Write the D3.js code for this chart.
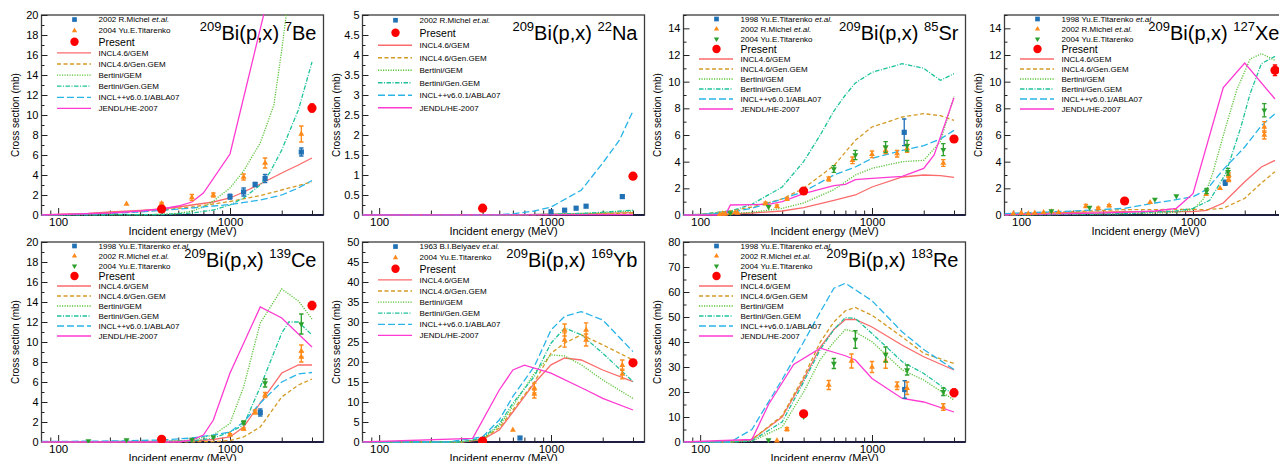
<!DOCTYPE html>
<html><head><meta charset="utf-8">
<script src="https://cdn.jsdelivr.net/npm/d3@7"></script>
<style>
body{margin:0;background:#fff}
svg{display:block}
text{font-family:"Liberation Sans",Arial,Helvetica,sans-serif;fill:#000}
</style>
</head><body>
<svg id="c" width="1279" height="461"></svg>
<script>
// ---------- shared axis data ----------
const xDomain = [80, 3500];
const xMajorTicks = [100, 1000];
const xMinorTicks = [90, 200, 300, 400, 500, 600, 700, 800, 900, 2000, 3000];
const modelNames = ["INCL4.6/GEM","INCL4.6/Gen.GEM","Bertini/GEM","Bertini/Gen.GEM","INCL++v6.0.1/ABLA07","JENDL/HE-2007"];

// ---------- 7Be ----------
const be7_yTicks = [0,2,4,6,8,10,12,14,16,18,20];
const be7_incl46gem = [[80,0.03],[100,0.05],[150,0.15],[200,0.3],[300,0.45],[400,0.6],[500,0.8],[600,1.0],[800,1.3],[1000,1.7],[1200,2.3],[1500,3.1],[2000,4.2],[2500,5.0],[3000,5.7]];
const be7_incl46gengem = [[80,0.02],[100,0.04],[200,0.2],[300,0.35],[400,0.5],[600,0.8],[800,1.1],[1000,1.35],[1500,1.95],[2000,2.5],[2500,2.95],[3000,3.3]];
const be7_bertgem = [[80,0],[300,0.02],[400,0.06],[500,0.15],[600,0.4],[700,0.8],[800,1.4],[1000,2.7],[1200,4.4],[1500,7.2],[1800,11],[2000,16.5],[2200,22],[2500,28]];
const be7_bertgengem = [[80,0],[400,0.05],[600,0.2],[800,0.5],[1000,1.0],[1200,1.7],[1500,3.0],[1700,4.2],[2000,6.5],[2500,10.5],[3000,15.3]];
const be7_inclpp = [[80,0.01],[100,0.02],[200,0.15],[300,0.3],[400,0.45],[600,0.7],[800,0.9],[1000,1.05],[1500,1.5],[2000,2.0],[2500,2.7],[3000,3.45]];
const be7_jendl = [[80,0],[100,0.05],[200,0.2],[300,0.4],[400,0.6],[500,0.9],[600,1.3],[700,2.2],[1000,6.1],[2000,27.5]];
const be7_michel = [[1000,1.83,0.25],[1200,2.3,0.4],[1400,3.05,0.2],[1600,3.65,0.4],[2600,6.3,0.4]];
const be7_tit2004 = [[250,1.1,0],[400,1.15,0.1],[600,1.75,0.3],[800,2.0,0.2],[1200,3.8,0.3],[1600,5.2,0.5],[2600,8.1,0.8]];
const be7_present = [[400,0.6,0.1],[3000,10.7,0.4]];

// ---------- 22Na ----------
const na22_yTicks = [0,0.5,1,1.5,2,2.5,3,3.5,4,4.5,5];
const na22_incl46gem = [[80,0],[400,0],[600,0.005],[1000,0.02],[1500,0.03],[2000,0.04],[3000,0.06]];
const na22_incl46gengem = [[80,0],[600,0],[1000,0.01],[2000,0.03],[3000,0.05]];
const na22_bertgem = [[80,0],[600,0],[1000,0.02],[1500,0.04],[2000,0.06],[3000,0.1]];
const na22_bertgengem = [[80,0],[600,0],[1000,0.02],[1500,0.04],[2000,0.07],[3000,0.12]];
const na22_inclpp = [[80,0],[400,0],[500,0.01],[600,0.03],[800,0.1],[1000,0.2],[1500,0.62],[2000,1.3],[2500,1.87],[3000,2.6]];
const na22_jendl = [[80,0],[3000,0.01]];
const na22_michel = [[1000,0.08,0],[1200,0.12,0],[1400,0.17,0],[1600,0.22,0],[2600,0.46,0]];
const na22_present = [[400,0.17,0],[3000,0.97,0]];

// ---------- 85Sr ----------
const sr85_yTicks = [0,2,4,6,8,10,12,14];
const sr85_incl46gem = [[80,0],[100,0.02],[150,0.08],[200,0.15],[300,0.3],[400,0.55],[600,1.1],[800,1.5],[1000,2.1],[1500,2.85],[2000,3.0],[2500,2.95],[3000,2.82]];
const sr85_incl46gengem = [[80,0],[100,0.05],[150,0.3],[200,0.6],[300,1.2],[400,2.0],[600,3.7],[800,5.6],[1000,6.6],[1500,7.35],[2000,7.6],[2500,7.45],[3000,7.1]];
const sr85_bertgem = [[80,0],[100,0.02],[150,0.1],[200,0.2],[300,0.5],[400,0.9],[600,1.9],[800,3.0],[1000,3.5],[1500,4.0],[2000,4.1],[2500,5.5],[3000,8.9]];
const sr85_bertgengem = [[80,0],[100,0.05],[150,0.3],[200,0.8],[300,2.1],[400,4.0],[500,6.0],[600,7.8],[700,9.0],[800,9.9],[1000,10.7],[1500,11.35],[2000,11.0],[2500,10.1],[3000,10.6]];
const sr85_inclpp = [[80,0],[100,0.03],[150,0.2],[200,0.5],[300,1.2],[400,1.75],[600,3.0],[800,3.6],[1000,4.25],[1500,4.85],[2000,5.2],[2500,5.7],[3000,6.35]];
const sr85_jendl = [[80,0],[140,0],[150,0.75],[200,0.78],[250,0.8],[300,1.0],[400,1.6],[600,2.2],[700,2.3],[800,2.65],[1000,2.75],[1500,2.9],[2000,3.5],[2300,4.5],[3000,8.8]];
const sr85_tit1998 = [[1540,6.2,1.0]];
const sr85_michel = [[130,0.05,0],[135,0.1,0],[140,0.08,0],[150,0.15,0],[160,0.2,0],[165,0.15,0],[240,0.87,0.1],[280,0.65,0.1],[320,1.2,0.1],[560,2.7,0.15],[770,4.1,0.25],[1000,4.55,0.25],[1200,4.85,0.25],[1400,4.6,0.25],[1600,5.0,0.3],[2600,3.9,0.25]];
const sr85_tit2004 = [[150,0.15,0],[250,0.62,0],[600,3.45,0.25],[800,4.5,0.35],[1200,5.1,0.4],[1600,5.2,0.4],[2600,4.9,0.45]];
const sr85_present = [[400,1.8,0.15],[3000,5.7,0.25]];

// ---------- 127Xe ----------
const xe127_yTicks = [0,2,4,6,8,10,12,14];
const xe127_incl46gem = [[80,0.05],[100,0.1],[200,0.2],[400,0.25],[600,0.25],[1000,0.25],[1200,0.35],[1500,0.9],[2000,2.5],[2500,3.6],[3000,4.1]];
const xe127_incl46gengem = [[80,0.05],[100,0.1],[200,0.25],[300,0.35],[400,0.4],[1000,0.42],[1200,0.4],[1500,0.5],[2000,1.25],[2500,2.4],[3000,3.25]];
const xe127_bertgem = [[80,0],[200,0.05],[400,0.1],[600,0.15],[800,0.2],[1000,0.4],[1150,1.2],[1300,3.1],[1550,6.6],[1800,9.4],[2150,11.7],[2500,12.1],[3000,11.6]];
const xe127_bertgengem = [[80,0],[400,0.1],[800,0.3],[1000,0.5],[1250,1.1],[1550,3.1],[1900,6.6],[2150,9.1],[2500,11.35],[3000,11.9]];
const xe127_inclpp = [[80,0.1],[100,0.15],[200,0.3],[400,0.5],[600,0.9],[800,1.15],[1000,1.37],[1200,1.9],[1500,3.4],[2000,5.1],[2500,6.7],[3000,7.6]];
const xe127_jendl = [[80,0],[100,0.05],[200,0.1],[400,0.2],[600,0.3],[800,0.5],[1000,1.6],[1500,9.55],[2000,11.4],[3000,8.7]];
const xe127_tit1998 = [[1540,2.42,0.2]];
const xe127_michel = [[90,0.1,0],[100,0.15,0],[110,0.1,0],[120,0.15,0],[135,0.2,0],[150,0.25,0],[165,0.2,0],[238,0.67,0.12],[281,0.5,0.08],[325,0.7,0.08],[563,0.95,0],[1193,1.55,0],[1438,2.0,0],[1613,3.0,0.15],[1613,2.65,0.15],[2600,6.0,0.3],[2600,6.6,0.4]];
const xe127_tit2004 = [[150,0.3,0],[250,0.57,0],[600,1.17,0],[800,1.42,0],[1200,1.8,0.2],[1600,3.24,0.25],[2600,7.86,0.5]];
const xe127_present = [[400,1.05,0.05],[3000,10.85,0.4]];

// ---------- 139Ce ----------
const ce139_yTicks = [0,2,4,6,8,10,12,14,16,18,20];
const ce139_incl46gem = [[80,0],[400,0.05],[600,0.1],[800,0.25],[1000,0.5],[1200,1.5],[1500,3.9],[2000,6.9],[2500,7.7],[3000,7.7]];
const ce139_incl46gengem = [[80,0],[600,0.02],[800,0.05],[1000,0.15],[1200,0.5],[1500,1.5],[2000,4.5],[2500,5.7],[3000,6.3]];
const ce139_bertgem = [[80,0],[400,0.02],[600,0.2],[800,0.7],[1000,1.87],[1200,5.5],[1500,11.9],[2000,15.3],[2500,14.1],[3000,12.3]];
const ce139_bertgengem = [[80,0],[600,0.1],[800,0.4],[1000,1.0],[1200,1.7],[1500,5.5],[2000,10.9],[2200,12.0],[2500,12.0],[3000,10.7]];
const ce139_inclpp = [[80,0.05],[200,0.1],[400,0.2],[600,0.4],[800,0.7],[1000,1.0],[1200,2.0],[1500,3.9],[2000,6.0],[2500,6.8],[3000,6.95]];
const ce139_jendl = [[80,0],[500,0],[600,0.2],[700,0.7],[800,2.2],[1000,6.9],[1500,13.5],[2000,12.4],[3000,9.5]];
const ce139_tit1998 = [[1500,2.95,0.35]];
const ce139_michel = [[1000,0.73,0.1],[1200,1.3,0.1],[1400,3.0,0.2],[1600,4.7,0.25],[2600,8.5,0.5],[2600,9.1,0.6]];
const ce139_tit2004 = [[150,0.1,0],[250,0.2,0],[600,0.25,0],[800,0.5,0],[1200,1.95,0.15],[1600,5.9,0.4],[2600,11.8,1.0]];
const ce139_present = [[400,0.27,0],[3000,13.65,0.4]];

// ---------- 169Yb ----------
const yb169_yTicks = [0,5,10,15,20,25,30,35,40,45,50];
const yb169_incl46gem = [[80,0],[300,0],[400,0.6],[500,3],[600,7.5],[800,14.7],[1000,19.3],[1200,21.0],[1500,20.5],[2000,18.0],[3000,15.1]];
const yb169_incl46gengem = [[80,0],[300,0],[400,0.8],[500,3.5],[600,8],[800,15],[1000,22.2],[1200,24.7],[1500,26.8],[2000,24.3],[3000,20.5]];
const yb169_bertgem = [[80,0],[300,0],[400,0.8],[500,4],[600,9],[800,17.2],[1000,21.8],[1200,21.5],[1500,19.3],[2000,15.5],[3000,10.9]];
const yb169_bertgengem = [[80,0],[300,0],[400,1.0],[500,4.5],[600,9.7],[800,16.4],[1000,24.7],[1200,28.5],[1500,26.8],[2000,22.2],[3000,15.1]];
const yb169_inclpp = [[80,0],[250,0],[300,0.5],[400,1.3],[500,5.5],[600,11.4],[800,18.9],[1000,28],[1200,31.4],[1500,32.6],[2000,30.5],[3000,22.6]];
const yb169_jendl = [[80,0],[350,0.9],[500,13],[600,18],[700,19.2],[1000,17.2],[1600,13.0],[2000,10.9],[3000,8.0]];
const yb169_belyaev = [[660,1.0,0]];
const yb169_tit2004 = [[600,3.0,0],[800,12.0,1.0],[800,13.5,1.2],[1200,25.5,1.8],[1200,28,1.5],[1600,25.5,1.5],[1600,28,1.8],[2600,17,1.2],[2600,19.2,1.3]];
const yb169_present = [[400,0.25,0],[3000,19.8,0.5]];

// ---------- 183Re ----------
const re183_yTicks = [0,10,20,30,40,50,60,70,80];
const re183_incl46gem = [[80,0],[150,0],[200,1],[300,10],[400,25],[500,38],[600,45],[700,49],[800,49],[1000,46],[1500,38.7],[2000,34.1],[3000,28.8]];
const re183_incl46gengem = [[80,0],[150,0],[200,1],[300,10.5],[400,26],[500,40],[600,48],[700,52.5],[800,53.8],[1000,50.7],[1500,42],[2000,35.5],[3000,31.4]];
const re183_bertgem = [[80,0],[150,0],[200,0.3],[300,6],[400,20],[500,33],[600,40],[700,45],[800,44],[1000,40.1],[1500,28.8],[2000,24.8],[3000,16.8]];
const re183_bertgengem = [[80,0],[150,0],[200,0.5],[300,8],[400,24],[500,37],[600,45],[700,49.8],[800,49.4],[1000,43.4],[1500,32.1],[2000,27.4],[3000,18.8]];
const re183_inclpp = [[80,0],[150,0],[200,5],[300,25],[400,40],[500,52],[600,61.5],[700,63.5],[1000,56.5],[1500,44],[2000,37],[3000,29]];
const re183_jendl = [[80,0],[200,1],[250,15],[350,31],[500,37.5],[700,34.5],[800,32.8],[1000,25.4],[1500,17.4],[2000,16],[3000,12]];
const re183_tit1998 = [[1550,21,3.5]];
const re183_michel = [[280,0.5,0],[320,5.1,0.6],[560,22.8,1.8],[760,32.4,2.8],[1000,30,2.2],[1200,32.5,3],[1400,22.5,1.5],[1600,21.5,2.5],[2600,14,1.3]];
const re183_tit2004 = [[250,0.8,0],[400,10.2,0],[600,31.4,2],[800,41,3.5],[1200,35,3],[1600,28.8,2],[2600,20.1,1.5]];
const re183_present = [[400,11.3,0.5],[3000,19.7,1.5]];

// ---------- styles ----------
const modelColors = ["#fb6b6b","#d49a26","#5cc43a","#1fc29a","#29b4e8","#ff3ad2"];
const modelDash = [null,"4,2.5","1.2,1.3","4.5,1.5,1,1.5","7,3",null];
const expColors = ["#2171b5","#ff8a1a","#2ca02c"];
const presentColor = "#ff0000";

const L_MICHEL = {t:"2002 R.Michel ", it:"et.al."};
const L_TIT04 = {t:"2004 Yu.E.Titarenko", it:""};
const L_TIT98 = {t:"1998 Yu.E.Titarenko ", it:"et.al."};
const L_BEL = {t:"1963 B.I.Belyaev ", it:"et.al."};

const panels = [
  {col:0,row:0,mass:"7",el:"Be",yMax:20,yTicks:be7_yTicks,
   models:[be7_incl46gem,be7_incl46gengem,be7_bertgem,be7_bertgengem,be7_inclpp,be7_jendl],
   exp:[{lab:L_MICHEL,pts:be7_michel,m:0},{lab:L_TIT04,pts:be7_tit2004,m:1}],present:be7_present},
  {col:1,row:0,mass:"22",el:"Na",yMax:5,yTicks:na22_yTicks,
   models:[na22_incl46gem,na22_incl46gengem,na22_bertgem,na22_bertgengem,na22_inclpp,na22_jendl],
   exp:[{lab:L_MICHEL,pts:na22_michel,m:0}],present:na22_present},
  {col:2,row:0,mass:"85",el:"Sr",yMax:15,yTicks:sr85_yTicks,
   models:[sr85_incl46gem,sr85_incl46gengem,sr85_bertgem,sr85_bertgengem,sr85_inclpp,sr85_jendl],
   exp:[{lab:L_TIT98,pts:sr85_tit1998,m:0},{lab:L_MICHEL,pts:sr85_michel,m:1},{lab:L_TIT04,pts:sr85_tit2004,m:2}],present:sr85_present},
  {col:3,row:0,mass:"127",el:"Xe",yMax:15,yTicks:xe127_yTicks,
   models:[xe127_incl46gem,xe127_incl46gengem,xe127_bertgem,xe127_bertgengem,xe127_inclpp,xe127_jendl],
   exp:[{lab:L_TIT98,pts:xe127_tit1998,m:0},{lab:L_MICHEL,pts:xe127_michel,m:1},{lab:L_TIT04,pts:xe127_tit2004,m:2}],present:xe127_present},
  {col:0,row:1,mass:"139",el:"Ce",yMax:20,yTicks:ce139_yTicks,
   models:[ce139_incl46gem,ce139_incl46gengem,ce139_bertgem,ce139_bertgengem,ce139_inclpp,ce139_jendl],
   exp:[{lab:L_TIT98,pts:ce139_tit1998,m:0},{lab:L_MICHEL,pts:ce139_michel,m:1},{lab:L_TIT04,pts:ce139_tit2004,m:2}],present:ce139_present},
  {col:1,row:1,mass:"169",el:"Yb",yMax:50,yTicks:yb169_yTicks,
   models:[yb169_incl46gem,yb169_incl46gengem,yb169_bertgem,yb169_bertgengem,yb169_inclpp,yb169_jendl],
   exp:[{lab:L_BEL,pts:yb169_belyaev,m:0},{lab:L_TIT04,pts:yb169_tit2004,m:1}],present:yb169_present},
  {col:2,row:1,mass:"183",el:"Re",yMax:80,yTicks:re183_yTicks,
   models:[re183_incl46gem,re183_incl46gengem,re183_bertgem,re183_bertgengem,re183_inclpp,re183_jendl],
   exp:[{lab:L_TIT98,pts:re183_tit1998,m:0},{lab:L_MICHEL,pts:re183_michel,m:1},{lab:L_TIT04,pts:re183_tit2004,m:2}],present:re183_present}
];

// ---------- drawing ----------
const svg = d3.select("#c");
const W = 282, H = 200;
const colX = [41.5, 362.5, 683.5, 1004.5];
const rowY = [15, 242];
const defs = svg.append("defs");

function marker(g, type, cx, cy, scale) {
  const s = scale || 1;
  if (type === 0) {
    g.append("rect").attr("x", cx - 2.6*s).attr("y", cy - 2.6*s).attr("width", 5.2*s).attr("height", 5.2*s).attr("fill", expColors[0]);
  } else if (type === 1) {
    g.append("path").attr("d", d3.symbol(d3.symbolTriangle, 15*s*s)()).attr("transform", `translate(${cx},${cy})`).attr("fill", expColors[1]);
  } else if (type === 2) {
    g.append("path").attr("d", d3.symbol(d3.symbolTriangle, 15*s*s)()).attr("transform", `translate(${cx},${cy}) rotate(180)`).attr("fill", expColors[2]);
  } else {
    g.append("circle").attr("cx", cx).attr("cy", cy).attr("r", 4.6*s).attr("fill", presentColor);
  }
}

panels.forEach((p, pi) => {
  const ox = colX[p.col], oy = rowY[p.row];
  const x = d3.scaleLog().domain(xDomain).range([ox, ox + W]);
  const y = d3.scaleLinear().domain([0, p.yMax]).range([oy + H, oy]);
  const g = svg.append("g");

  defs.append("clipPath").attr("id", "clip" + pi).append("rect")
    .attr("x", ox).attr("y", oy - 1).attr("width", W).attr("height", H + 2);

  // frame
  g.append("rect").attr("x", ox).attr("y", oy).attr("width", W).attr("height", H)
    .attr("fill", "none").attr("stroke", "#3c3c3c").attr("stroke-width", 1.3);
  g.append("line").attr("x1", ox).attr("x2", ox + W).attr("y1", oy + H).attr("y2", oy + H)
    .attr("stroke", "#1e1e40").attr("stroke-width", 2);

  // x axis ticks
  const xMaj = g.append("g").attr("transform", `translate(0,${oy + H})`)
    .call(d3.axisBottom(x).tickValues(xMajorTicks).tickSize(-7).tickPadding(2.5).tickFormat(d3.format("d")));
  const xMin = g.append("g").attr("transform", `translate(0,${oy + H})`)
    .call(d3.axisBottom(x).tickValues(xMinorTicks).tickSize(-4.5).tickFormat(""));
  [xMaj, xMin].forEach(a => { a.select(".domain").remove(); a.selectAll("line").attr("stroke", "#222"); });
  xMaj.selectAll("text").attr("font-size", 11.5).attr("font-family", "Liberation Sans, Arial, sans-serif").attr("fill", "#000");

  // y axis ticks
  const step = p.yTicks[1] - p.yTicks[0];
  const yMinorVals = p.yTicks.slice(0, -1).map(v => v + step / 2).concat(p.yTicks[p.yTicks.length-1] + step/2 <= p.yMax ? [p.yTicks[p.yTicks.length-1] + step/2] : []);
  const yMaj = g.append("g").attr("transform", `translate(${ox},0)`)
    .call(d3.axisLeft(y).tickValues(p.yTicks).tickSize(-6).tickPadding(3).tickFormat(d => String(d)));
  const yMin = g.append("g").attr("transform", `translate(${ox},0)`)
    .call(d3.axisLeft(y).tickValues(yMinorVals).tickSize(-3).tickFormat(""));
  [yMaj, yMin].forEach(a => { a.select(".domain").remove(); a.selectAll("line").attr("stroke", "#222"); });
  yMaj.selectAll("text").attr("font-size", 11).attr("font-family", "Liberation Sans, Arial, sans-serif").attr("fill", "#000");

  // axis titles
  g.append("text").attr("x", ox + W / 2).attr("y", oy + H + 19.5).attr("text-anchor", "middle")
    .attr("font-size", 11).text("Incident energy (MeV)");
  g.append("text").attr("transform", `translate(${ox - 22.5},${oy + H / 2}) rotate(-90)`)
    .attr("text-anchor", "middle").attr("font-size", 10).text("Cross section (mb)");

  // model curves
  const plot = g.append("g").attr("clip-path", `url(#clip${pi})`);
  const line = d3.line().x(d => x(d[0])).y(d => y(d[1]));
  p.models.forEach((m, i) => {
    plot.append("path").attr("d", line(m)).attr("fill", "none")
      .attr("stroke", modelColors[i]).attr("stroke-width", 1.3)
      .attr("stroke-dasharray", modelDash[i]);
  });

  // experimental data
  const drawPts = (pts, type, color, sc) => {
    pts.forEach(d => {
      const cx = x(d[0]), cy = y(d[1]);
      if (d[2] > 0) {
        const y1 = y(d[1] - d[2]), y2 = y(d[1] + d[2]);
        plot.append("line").attr("x1", cx).attr("x2", cx).attr("y1", y1).attr("y2", y2).attr("stroke", color).attr("stroke-width", 1.3);
        [y1, y2].forEach(yy => plot.append("line").attr("x1", cx - 2.2).attr("x2", cx + 2.2).attr("y1", yy).attr("y2", yy).attr("stroke", color).attr("stroke-width", 1.3));
      }
      marker(plot, type, cx, cy, sc);
    });
  };
  p.exp.forEach(e => drawPts(e.pts, e.m, expColors[e.m], 1));
  drawPts(p.present, 3, presentColor, 1);

  // legend
  const entries = [];
  p.exp.forEach(e => entries.push({kind: "exp", m: e.m, lab: e.lab}));
  entries.push({kind: "present"});
  modelNames.forEach((n, i) => entries.push({kind: "model", i, n}));
  const n = entries.length, rowH = 100 / n;
  const lg = g.append("g");
  entries.forEach((e, k) => {
    const cy = oy - 1 + (k + 0.5) * rowH;
    const tx = ox + 57;
    if (e.kind === "exp") {
      marker(lg, e.m, ox + 33, cy, 0.9);
      const t = lg.append("text").attr("x", tx).attr("y", cy).attr("dy", "0.35em").attr("font-size", 8);
      t.append("tspan").text(e.lab.t);
      if (e.lab.it) t.append("tspan").attr("font-style", "italic").text(e.lab.it);
    } else if (e.kind === "present") {
      lg.append("circle").attr("cx", ox + 33).attr("cy", cy).attr("r", 4.2).attr("fill", presentColor);
      lg.append("text").attr("x", tx).attr("y", cy).attr("dy", "0.36em").attr("font-size", 10.5).text("Present");
    } else {
      lg.append("line").attr("x1", ox + 15.5).attr("x2", ox + 49.5).attr("y1", cy).attr("y2", cy)
        .attr("stroke", modelColors[e.i]).attr("stroke-width", 1.3).attr("stroke-dasharray", modelDash[e.i]);
      lg.append("text").attr("x", tx).attr("y", cy).attr("dy", "0.35em").attr("font-size", 8).text(e.n);
    }
  });

  // title
  const tt = g.append("text").attr("x", ox + W - 7).attr("y", oy + 25).attr("text-anchor", "end");
  tt.append("tspan").attr("font-size", 13).attr("dy", -9).text("209");
  tt.append("tspan").attr("font-size", 20).attr("dy", 9).text("Bi(p,x) ");
  tt.append("tspan").attr("font-size", 13).attr("dy", -9).text(p.mass);
  tt.append("tspan").attr("font-size", 20).attr("dy", 9).text(p.el);
});
</script>
</body></html>
